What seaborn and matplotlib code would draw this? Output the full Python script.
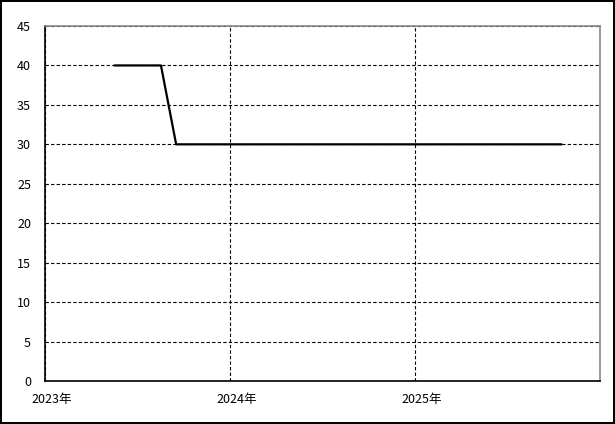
import matplotlib
matplotlib.use('Agg')
import matplotlib.pyplot as plt
import matplotlib.dates as mdates
import matplotlib.transforms as mtransforms
import seaborn as sns
import pandas as pd

# data
dates = ['2023-05-18', '2023-08-18', '2023-09-17', '2025-10-17']
values = [40, 40, 30, 30]
year_ticks = ['2023-01-01', '2024-01-01', '2025-01-01']
y_ticks = [0, 5, 10, 15, 20, 25, 30, 35, 40, 45]

df = pd.DataFrame({'date': pd.to_datetime(dates), 'value': values})

sns.set_style('white')
plt.rcParams['font.family'] = ['Noto Sans CJK JP', 'DejaVu Sans']

fig = plt.figure(figsize=(6.15, 4.24), dpi=100)
fig.patch.set_edgecolor('black')
fig.patch.set_linewidth(1.5)
ax = fig.add_axes([45 / 615, 1 - 381 / 424, 555 / 615, 355 / 424])

sns.lineplot(data=df, x='date', y='value', color='black', linewidth=1.6, ax=ax, zorder=3)

ax.set_xlim(pd.Timestamp('2023-01-01'), pd.Timestamp('2026-01-01'))
ax.set_ylim(0, 45)
ax.set_xticks(pd.to_datetime(year_ticks))
ax.xaxis.set_major_formatter(mdates.DateFormatter('%Y年'))
ax.set_yticks(y_ticks)
ax.set_xlabel('')
ax.set_ylabel('')

ax.grid(True, color='black', linestyle=(0, (3, 2)), linewidth=0.8)
ax.tick_params(length=0, labelsize=9, colors='black')
ax.tick_params(axis='y', pad=10)
ax.tick_params(axis='x', pad=9)
offset = mtransforms.ScaledTranslation(7 / 100, 0, fig.dpi_scale_trans)
for lbl in ax.get_xticklabels():
    lbl.set_transform(lbl.get_transform() + offset)

for side in ['left', 'bottom']:
    ax.spines[side].set_color('black')
    ax.spines[side].set_linewidth(1.2)
for side in ['top', 'right']:
    ax.spines[side].set_color('#888888')
    ax.spines[side].set_linewidth(1.2)

fig.savefig('out.png', dpi=100, edgecolor=fig.get_edgecolor())
